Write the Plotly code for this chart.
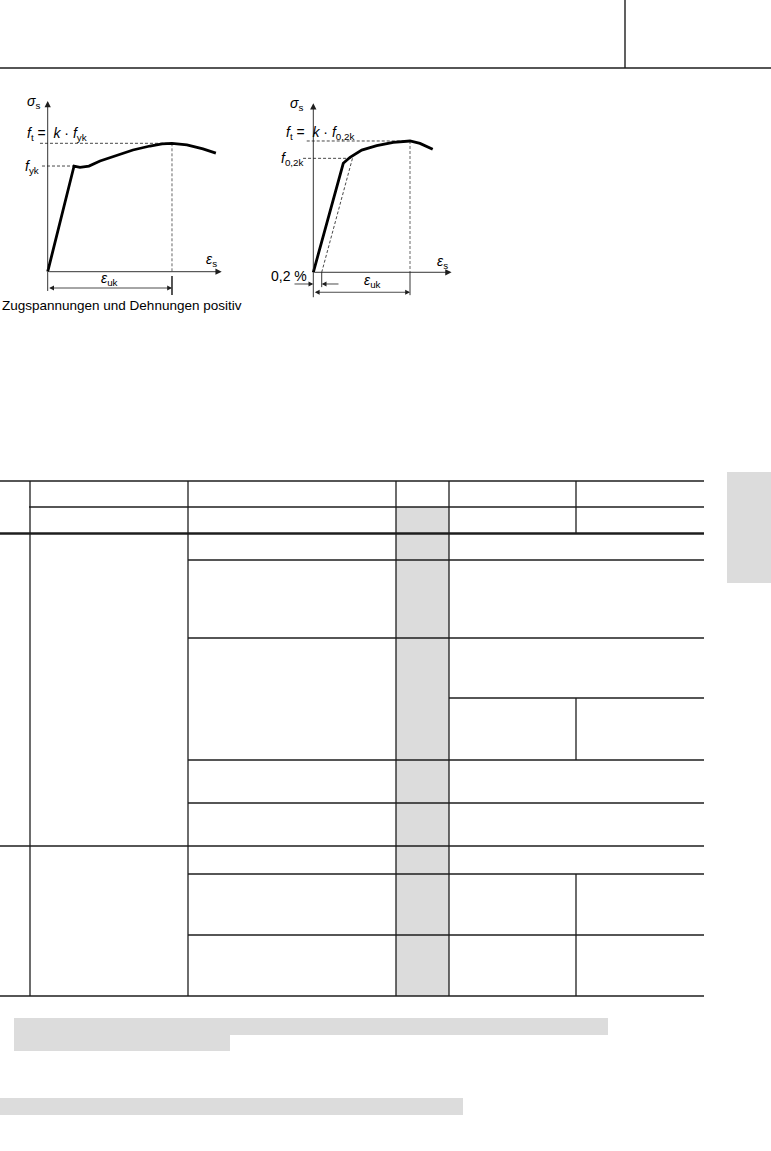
import plotly.graph_objects as go

W, H = 771, 1151

# ---------------- data: stress-strain diagrams (relative units) ----------------
# Diagram 1: hot-rolled reinforcing steel (with yield plateau)
d1_eps = [0, 21.2, 26.0, 33.2, 42.1, 55.8, 68.6, 82.3, 92.0, 100.0, 112.0, 124.9, 135.3]
d1_sig = [0, 82.3, 81.3, 82.3, 86.2, 90.9, 94.8, 97.9, 99.5, 100.0, 98.7, 95.6, 92.4]
d1_fyk = 82.3
d1_ft = 100.0
d1_euk = 100.0

# Diagram 2: cold-worked reinforcing steel (0.2 % proof stress)
d2_eps = [0, 31.0, 38.0, 50.1, 65.6, 82.7, 100.0, 110.3, 123.5]
d2_sig = [0, 83.0, 87.6, 93.1, 96.4, 99.0, 100.0, 98.2, 93.7]
d2_f02k = 86.8
d2_offset = 8.7
d2_ft = 100.0
d2_euk = 100.0

# ---------------- page / table structure ----------------
tab_h_lines = [  # (y, x0, x1, width)
    (481, 0, 704, 1.3), (507, 29, 704, 1.3), (533.5, 0, 704, 2.6),
    (560, 188, 704, 1.3), (638, 188, 704, 1.3), (698, 449, 704, 1.3),
    (760, 188, 704, 1.3), (803, 188, 704, 1.3), (846, 0, 704, 1.3),
    (874, 188, 704, 1.3), (935, 188, 704, 1.3), (996, 0, 704, 1.3),
]
tab_v_lines = [  # (x, y0, y1, width)
    (30, 481, 996, 1.3), (188, 481, 996, 1.3), (396, 481, 996, 1.3),
    (449, 481, 996, 1.3), (576, 481, 533, 1.3), (576, 698, 760, 1.3),
    (576, 874, 996, 1.3),
]
grey_boxes = [  # (x0, y0, x1, y1)
    (396, 507, 449, 996), (727, 472, 771, 583),
    (14, 1018, 608, 1035), (14, 1035, 230, 1051), (0, 1098, 463, 1115),
]

GREY = "#dcdcdc"
INK = "#1e1e1e"
FONT = "Liberation Sans, Arial, sans-serif"

fig = go.Figure()

# Diagram placement (pixel origin, pixel-per-unit scale, unit ranges)
diag = {
    2: dict(ox=47.7, oy=271.7, sx=1.243, sy=1.284, xr=[-38, 145], yr=[-25, 140]),
    3: dict(ox=313.3, oy=272.3, sx=0.967, sy=1.313, xr=[-40, 150], yr=[-25, 135]),
}

layout_axes = dict(
    xaxis=dict(domain=[0, 1], range=[0, W], visible=False, fixedrange=True),
    yaxis=dict(domain=[0, 1], range=[H, 0], visible=False, fixedrange=True),
)
for k, d in diag.items():
    x0 = (d["ox"] + d["xr"][0] * d["sx"]) / W
    x1 = (d["ox"] + d["xr"][1] * d["sx"]) / W
    y0 = 1 - (d["oy"] - d["yr"][0] * d["sy"]) / H
    y1 = 1 - (d["oy"] - d["yr"][1] * d["sy"]) / H
    layout_axes[f"xaxis{k}"] = dict(domain=[x0, x1], range=d["xr"], visible=False,
                                    fixedrange=True, anchor=f"y{k}")
    layout_axes[f"yaxis{k}"] = dict(domain=[y0, y1], range=d["yr"], visible=False,
                                    fixedrange=True, anchor=f"x{k}")


def line(xs, ys, k, width=1.0, color=INK, dash="solid"):
    fig.add_trace(go.Scatter(x=xs, y=ys, mode="lines", xaxis=f"x{k}", yaxis=f"y{k}",
                             line=dict(width=width, color=color, dash=dash),
                             hoverinfo="skip", showlegend=False))


DASH = "3px,2px"
annotations = []


def arrow(k, x, y, ax, ay, both=False, width=0.9, size=1.4):
    annotations.append(dict(x=x, y=y, ax=ax, ay=ay, xref=f"x{k}", yref=f"y{k}",
                            axref=f"x{k}", ayref=f"y{k}", text=" ", showarrow=True,
                            arrowhead=2, arrowsize=size, arrowwidth=width,
                            arrowcolor=INK, standoff=0, startstandoff=0,
                            arrowside="end+start" if both else "end",
                            startarrowhead=2, startarrowsize=size,
                            font=dict(size=1)))


def label(k, x, y, text, xanchor="center", size=14):
    annotations.append(dict(x=x, y=y, xref=f"x{k}", yref=f"y{k}", text=text,
                            showarrow=False, xanchor=xanchor, yanchor="middle",
                            font=dict(family=FONT, size=size, color="#000000")))


# ---------- Diagram 1 ----------
line([-6.2, d1_euk], [d1_ft, d1_ft], 2, 0.9, "#333", DASH)
line([-4.6, d1_eps[1]], [d1_fyk, d1_fyk], 2, 0.9, "#333", DASH)
line([d1_euk, d1_euk], [d1_ft, 0], 2, 0.9, "#555", DASH)
line([0, 0], [0, -15], 2, 0.9, INK)
line([d1_euk, d1_euk], [-3.3, -18.1], 2, 1.5, INK)
line(d1_eps, d1_sig, 2, 2.8, "#000000")
arrow(2, 140, 0, 0, 0)
arrow(2, 0, 133, 0, 0)
arrow(2, d1_euk, -12.7, 0, -12.7, both=True, width=0.8, size=1.2)
label(2, -4.5, 132.5, "<i>σ</i><sub>s</sub>", xanchor="right")
label(2, -18.6, 107.0, "<i>f</i><sub>t</sub> =  <i>k</i> · <i>f</i><sub>yk</sub>", xanchor="left")
label(2, -5.2, 81.5, "<i>f</i><sub>yk</sub>", xanchor="right")
label(2, 132, 9.5, "<i>ε</i><sub>s</sub>")
label(2, 50, -6.0, "<i>ε</i><sub>uk</sub>")

# ---------- Diagram 2 ----------
line([-6.8, d2_euk], [d2_ft, d2_ft], 3, 0.9, "#333", DASH)
line([-10.6, 40.5], [d2_f02k, d2_f02k], 3, 0.9, "#333", DASH)
line([d2_offset, 40.5], [0, d2_f02k], 3, 0.9, "#333", DASH)
line([d2_euk, d2_euk], [d2_ft, 0], 3, 0.9, "#555", DASH)
line([d2_euk, d2_euk], [0, -17.4], 3, 0.9, INK)
line([0, 0], [0, -19], 3, 0.9, INK)
line([d2_offset, d2_offset], [0, -11.3], 3, 0.9, INK)
line(d2_eps, d2_sig, 3, 2.8, "#000000")
arrow(3, 143, 0, 0, 0)
arrow(3, 0, 128.7, 0, 0)
arrow(3, 0, -8.9, -21, -8.9, width=0.8, size=1.2)
arrow(3, d2_offset, -8.9, 27.6, -8.9, width=0.8, size=1.2)
arrow(3, d2_euk, -15.2, 0, -15.2, both=True, width=0.8, size=1.2)
label(3, -8.5, 128.5, "<i>σ</i><sub>s</sub>", xanchor="right")
label(3, -30.0, 106.0, "<i>f</i><sub>t</sub> =  <i>k</i> · <i>f</i><sub>0,2k</sub>", xanchor="left")
label(3, -7.8, 86.0, "<i>f</i><sub>0,2k</sub>", xanchor="right")
label(3, 134, 8.0, "<i>ε</i><sub>s</sub>")
label(3, 61.7, -7.0, "<i>ε</i><sub>uk</sub>")
label(3, -4.0, -2.8, "0,2 %", xanchor="right")

annotations.append(dict(x=0, y=305, xref="x", yref="y", text="Zugspannungen und Dehnungen positiv",
                        showarrow=False, xanchor="left", yanchor="middle",
                        font=dict(family=FONT, size=13.5, color="#000000")))

# ---------- page shapes ----------
shapes = []
for (x0, y0, x1, y1) in grey_boxes:
    shapes.append(dict(type="rect", xref="x", yref="y", x0=x0, y0=y0, x1=x1, y1=y1,
                       fillcolor=GREY, line=dict(width=0), layer="below"))
for (y, x0, x1, w) in tab_h_lines:
    shapes.append(dict(type="line", xref="x", yref="y", x0=x0, x1=x1, y0=y, y1=y,
                       line=dict(color=INK, width=w)))
for (x, y0, y1, w) in tab_v_lines:
    shapes.append(dict(type="line", xref="x", yref="y", x0=x, x1=x, y0=y0, y1=y1,
                       line=dict(color=INK, width=w)))
# header rule
shapes.append(dict(type="line", xref="x", yref="y", x0=0, x1=W, y0=68, y1=68,
                   line=dict(color=INK, width=1.7)))
shapes.append(dict(type="line", xref="x", yref="y", x0=625, x1=625, y0=0, y1=68,
                   line=dict(color=INK, width=1.4)))

fig.update_layout(
    width=W, height=H, margin=dict(l=0, r=0, t=0, b=0),
    paper_bgcolor="white", plot_bgcolor="rgba(0,0,0,0)",
    showlegend=False, shapes=shapes, annotations=annotations,
    **layout_axes,
)

fig.write_html("out.html", config={"displayModeBar": False})
